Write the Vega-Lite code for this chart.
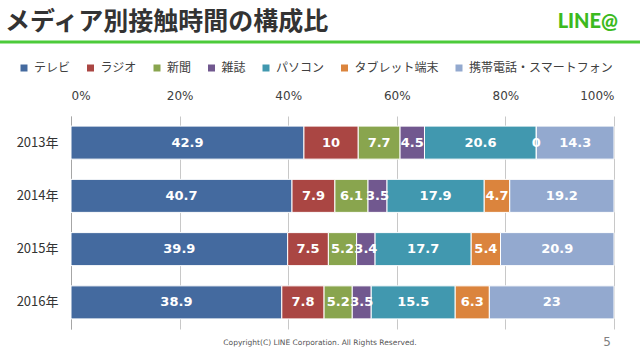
{
  "$schema": "https://vega.github.io/schema/vega-lite/v6.json",
  "autosize": {"type": "none"},
  "width": 543,
  "height": 213,
  "padding": {"left": 71, "top": 116, "right": 26, "bottom": 25},
  "background": "white",
  "title": {
    "text": "メディア別接触時間の構成比",
    "anchor": "start",
    "frame": "group",
    "orient": "top",
    "font": "Noto Sans CJK JP",
    "fontSize": 25,
    "fontWeight": "bold",
    "color": "#333333",
    "dx": -66,
    "offset": -23
  },
  "config": {
    "view": {"stroke": null},
    "font": "Noto Sans CJK JP"
  },
  "data": {
    "values": [
      {"year": "2013年", "media": "テレビ", "o": 1, "v": 42.9},
      {"year": "2013年", "media": "ラジオ", "o": 2, "v": 10},
      {"year": "2013年", "media": "新聞", "o": 3, "v": 7.7},
      {"year": "2013年", "media": "雑誌", "o": 4, "v": 4.5},
      {"year": "2013年", "media": "パソコン", "o": 5, "v": 20.6},
      {"year": "2013年", "media": "タブレット端末", "o": 6, "v": 0},
      {"year": "2013年", "media": "携帯電話・スマートフォン", "o": 7, "v": 14.3},
      {"year": "2014年", "media": "テレビ", "o": 1, "v": 40.7},
      {"year": "2014年", "media": "ラジオ", "o": 2, "v": 7.9},
      {"year": "2014年", "media": "新聞", "o": 3, "v": 6.1},
      {"year": "2014年", "media": "雑誌", "o": 4, "v": 3.5},
      {"year": "2014年", "media": "パソコン", "o": 5, "v": 17.9},
      {"year": "2014年", "media": "タブレット端末", "o": 6, "v": 4.7},
      {"year": "2014年", "media": "携帯電話・スマートフォン", "o": 7, "v": 19.2},
      {"year": "2015年", "media": "テレビ", "o": 1, "v": 39.9},
      {"year": "2015年", "media": "ラジオ", "o": 2, "v": 7.5},
      {"year": "2015年", "media": "新聞", "o": 3, "v": 5.2},
      {"year": "2015年", "media": "雑誌", "o": 4, "v": 3.4},
      {"year": "2015年", "media": "パソコン", "o": 5, "v": 17.7},
      {"year": "2015年", "media": "タブレット端末", "o": 6, "v": 5.4},
      {"year": "2015年", "media": "携帯電話・スマートフォン", "o": 7, "v": 20.9},
      {"year": "2016年", "media": "テレビ", "o": 1, "v": 38.9},
      {"year": "2016年", "media": "ラジオ", "o": 2, "v": 7.8},
      {"year": "2016年", "media": "新聞", "o": 3, "v": 5.2},
      {"year": "2016年", "media": "雑誌", "o": 4, "v": 3.5},
      {"year": "2016年", "media": "パソコン", "o": 5, "v": 15.5},
      {"year": "2016年", "media": "タブレット端末", "o": 6, "v": 6.3},
      {"year": "2016年", "media": "携帯電話・スマートフォン", "o": 7, "v": 23}
    ]
  },
  "encoding": {
    "y": {
      "field": "year",
      "type": "nominal",
      "title": null,
      "scale": {"paddingInner": 0.38, "paddingOuter": 0.19},
      "axis": {
        "orient": "left",
        "ticks": false,
        "domain": true,
        "domainColor": "#A6A6A6",
        "labelPadding": 13,
        "labelFontSize": 13,
        "labelColor": "#333333",
        "labelFont": "Noto Sans CJK JP"
      }
    }
  },
  "layer": [
    {
      "mark": {"type": "bar", "stroke": "white", "strokeWidth": 1},
      "encoding": {
        "x": {
          "field": "v",
          "type": "quantitative",
          "stack": "normalize",
          "title": null,
          "scale": {"domain": [0, 1]},
          "axis": {
            "orient": "top",
            "values": [0, 0.2, 0.4, 0.6, 0.8, 1],
            "format": "%",
            "ticks": false,
            "domain": false,
            "grid": true,
            "gridColor": "#C8C8C8",
            "labelPadding": 14,
            "labelFontSize": 12,
            "labelColor": "#404040",
            "labelFont": "DejaVu Sans"
          }
        },
        "color": {
          "field": "media",
          "type": "nominal",
          "sort": ["テレビ", "ラジオ", "新聞", "雑誌", "パソコン", "タブレット端末", "携帯電話・スマートフォン"],
          "scale": {
            "domain": ["テレビ", "ラジオ", "新聞", "雑誌", "パソコン", "タブレット端末", "携帯電話・スマートフォン"],
            "range": ["#446A9F", "#AA4643", "#89A54E", "#71588F", "#4198AF", "#DB843D", "#93A9CF"]
          },
          "legend": {
            "orient": "none",
            "legendX": -53,
            "legendY": -54,
            "direction": "horizontal",
            "columns": 7,
            "title": null,
            "symbolType": "square",
            "symbolSize": 49,
            "symbolStrokeWidth": 0,
            "labelFontSize": 12,
            "labelColor": "#404040",
            "labelFont": "Noto Sans CJK JP",
            "columnPadding": 13.5,
            "labelOffset": 4
          }
        },
        "order": {"field": "o", "type": "quantitative"}
      }
    },
    {
      "mark": {"type": "text", "color": "white", "font": "DejaVu Sans", "fontWeight": "bold", "fontSize": 13},
      "encoding": {
        "x": {"field": "v", "type": "quantitative", "stack": "normalize", "bandPosition": 0.5},
        "detail": {"field": "media", "type": "nominal"},
        "order": {"field": "o", "type": "quantitative"},
        "text": {"field": "v", "type": "quantitative"}
      }
    },
    {
      "data": {"values": [{}]},
      "mark": {"type": "rule", "color": "#4CCB3A", "strokeWidth": 3},
      "encoding": {"x": {"value": -71}, "x2": {"value": 569}, "y": {"value": -74}}
    },
    {
      "data": {"values": [{}]},
      "mark": {"type": "text", "text": "LINE@", "font": "Lato", "fontWeight": 900, "fontSize": 20, "color": "#3CBA1E", "align": "right", "baseline": "alphabetic"},
      "encoding": {"x": {"value": 547}, "y": {"value": -88}}
    },
    {
      "data": {"values": [{}]},
      "mark": {"type": "text", "text": "Copyright(C)  LINE Corporation. All Rights Reserved.", "font": "DejaVu Sans", "fontSize": 7.5, "color": "#555555", "align": "center", "baseline": "alphabetic"},
      "encoding": {"x": {"value": 249}, "y": {"value": 229}}
    },
    {
      "data": {"values": [{}]},
      "mark": {"type": "text", "text": "5", "font": "DejaVu Sans", "fontSize": 12, "color": "#808080", "align": "center", "baseline": "alphabetic"},
      "encoding": {"x": {"value": 536}, "y": {"value": 230}}
    }
  ]
}
